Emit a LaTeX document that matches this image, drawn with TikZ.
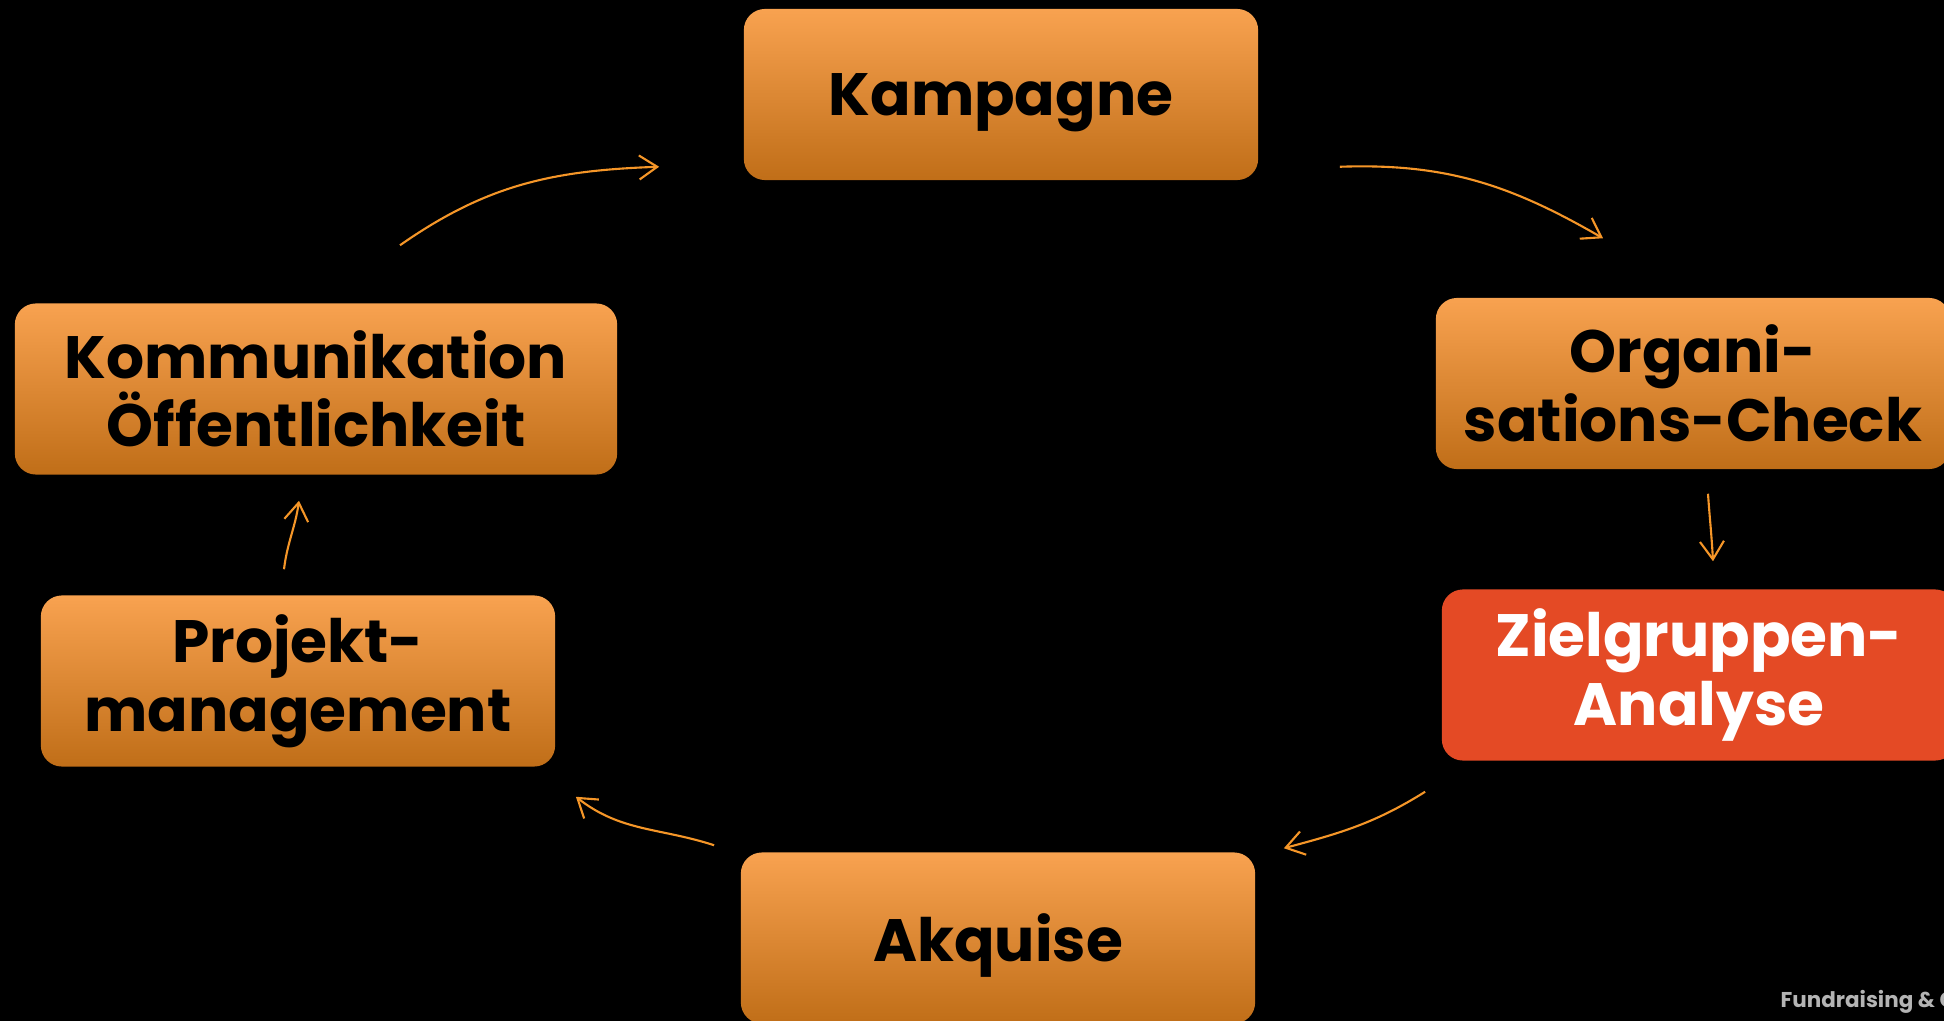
\documentclass[tikz,border=0pt]{standalone}
\usepackage{fontspec}
\setmainfont{Poppins}
\usetikzlibrary{arrows.meta}
\definecolor{boxtop}{RGB}{248,162,80}
\definecolor{boxbot}{RGB}{192,110,24}
\definecolor{zielred}{RGB}{228,74,37}
\definecolor{pfeil}{RGB}{245,150,40}
\definecolor{fusstext}{RGB}{180,180,180}

\begin{document}
\begin{tikzpicture}[x=0.01cm, y=0.01cm,
    tile/.style={rounded corners=6pt, minimum width=5.14cm, minimum height=1.71cm,
        inner sep=0pt, align=center, font=\fontsize{17}{19.5}\selectfont\bfseries},
    box/.style={tile, top color=boxtop, bottom color=boxbot},
    hot/.style={tile, fill=zielred, text=white},
    flow/.style={pfeil, line width=0.6pt, -{Straight Barb[length=1.8mm,width=2.4mm]}}]
    \path[use as bounding box, fill=black] (0,0) rectangle (1944,-1021);
    % Zyklus
    \node[box, text depth=0pt] (kamp) at (1001,-94.5) {Kampagne};
    \node[box] (orga) at (1693,-383.5) {Organi-\\sations-Check};
    \node[hot] (ziel) at (1699,-675) {Zielgruppen-\\Analyse};
    \node[box, text depth=0pt] (akq) at (998,-938) {Akquise};
    \node[box] (proj) at (298,-681) {Projekt-\\management};
    \node[box, minimum width=6.02cm] (komm) at (316,-389) {Kommunikation\\Öffentlichkeit};
    % Pfeile
    \draw[flow] ([shift={(84,57.5)}]komm.north) to[out=35,in=182] ([shift={(-84,14)}]kamp.south west);
    \draw[flow] ([shift={(81,14)}]kamp.south east) to[out=2,in=150] ([shift={(-90,59)}]orga.north);
    \draw[flow] ([shift={(15,-24)}]orga.south) to[out=-86,in=93] ([shift={(14,27.5)}]ziel.north);
    \draw[flow] ([shift={(-16,-30.5)}]ziel.south west) to[out=212,in=15] ([shift={(28,3.5)}]akq.north east);
    \draw[flow] ([shift={(-26,6.5)}]akq.north west) to[out=162,in=-38] ([shift={(20,-29.5)}]proj.south east);
    \draw[flow] ([shift={(-14,25.5)}]proj.north) to[out=83,in=-98] ([shift={(-17,-25.5)}]komm.south);
    \node[anchor=base west, fusstext, font=\fontsize{6.1}{8}\selectfont\bfseries, inner sep=0pt] (fuss) at (1780,-1007) {Fundraising \& C};
\end{tikzpicture}
\end{document}
